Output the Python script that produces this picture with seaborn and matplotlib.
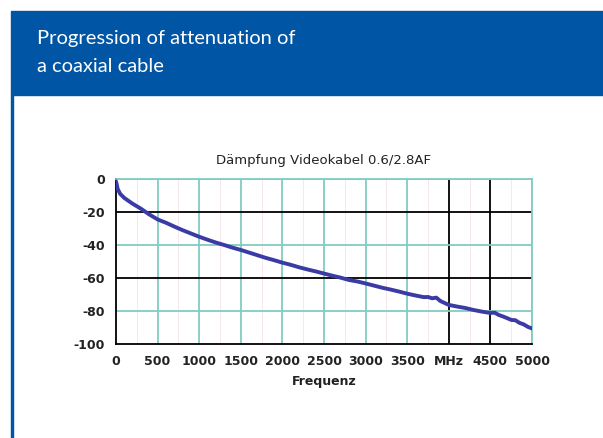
import matplotlib
matplotlib.use("Agg")
import matplotlib.pyplot as plt
import matplotlib.patches as patches
import seaborn as sns
import pandas as pd

# values
freq_mhz = [0, 10, 20, 50, 100, 200, 300, 400, 500, 600, 700, 800, 900,
            1000, 1100, 1200, 1300, 1400, 1500, 1600, 1700, 1800, 1900,
            2000, 2100, 2200, 2300, 2400, 2500, 2600, 2700, 2800, 2900,
            3000, 3100, 3200, 3300, 3400, 3500, 3600, 3700, 3750, 3800,
            3850, 3900, 4000, 4100, 4200, 4300, 4400, 4500, 4550, 4600,
            4650, 4700, 4750, 4800, 4850, 4900, 4950, 5000]
attenuation_db = [-1.5, -3.5, -6, -9, -11.5, -15, -18, -21.5, -24.5, -26.5,
                  -28.8, -31, -33, -35, -36.8, -38.5, -40, -41.6, -43, -44.6,
                  -46.2, -47.8, -49.2, -50.7, -52, -53.5, -54.8, -56, -57.3,
                  -58.6, -59.8, -61.2, -62.1, -63.3, -64.6, -65.9, -67, -68.2,
                  -69.5, -70.6, -71.6, -71.5, -72.3, -71.9, -74.0, -76.3,
                  -77.3, -78.2, -79.4, -80.4, -81.2, -81.0, -82.4, -83.3,
                  -84.3, -85.4, -85.6, -87.2, -88.1, -89.6, -90.6]
x_ticks = [0, 500, 1000, 1500, 2000, 2500, 3000, 3500, 4000, 4500, 5000]
x_tick_labels = ["0", "500", "1000", "1500", "2000", "2500", "3000", "3500",
                 "MHz", "4500", "5000"]
y_ticks = [0, -20, -40, -60, -80, -100]

header_blue = "#0055a4"
teal = "#7fcdc2"

df = pd.DataFrame({"Frequenz": freq_mhz, "Dämpfung": attenuation_db})

sns.set_style("white")
plt.rcParams["font.family"] = ["DejaVu Sans"]
plt.rcParams["axes.unicode_minus"] = False

fig = plt.figure(figsize=(6.03, 4.38), dpi=100)

# blue header band and left border of the panel
fig.patches.append(patches.Rectangle((11 / 603, 1 - 95 / 438), 592 / 603, 84 / 438,
                                     transform=fig.transFigure, color=header_blue, zorder=0))
fig.patches.append(patches.Rectangle((11 / 603, 0), 2 / 603, 1 - 95 / 438,
                                     transform=fig.transFigure, color=header_blue, zorder=0))
fig.text(37 / 603, 1 - 30 / 438, "Progression of attenuation of\na coaxial cable",
         color="white", fontsize=14.5, family=["Lato", "DejaVu Sans"],
         va="top", ha="left", linespacing=1.75)

ax = fig.add_axes([116 / 603, 1 - 344 / 438, 416 / 603, 165 / 438])

# very faint pinkish minor grid
for v in range(250, 5000, 500):
    ax.axvline(v, color="#f8e6ee", lw=0.7, zorder=0)

# main grid: teal, some lines black
for v in x_ticks[1:]:
    ax.axvline(v, color="black" if v in (4000, 4500) else teal, lw=1.3, zorder=1)
for h in y_ticks[:-1]:
    ax.axhline(h, color="black" if h in (-20, -60) else teal, lw=1.3, zorder=1)

sns.lineplot(data=df, x="Frequenz", y="Dämpfung", ax=ax, color="#3b3ba6",
             lw=2.8, zorder=3)

ax.set_xlim(0, 5000)
ax.set_ylim(-100, 0)
ax.set_xticks(x_ticks)
ax.set_xticklabels(x_tick_labels)
ax.set_yticks(y_ticks)
ax.tick_params(axis="both", length=4, width=1, color="black", labelsize=9,
               labelcolor="#222222", pad=4)
for lab in ax.get_xticklabels() + ax.get_yticklabels():
    lab.set_fontweight("bold")

for side in ("top", "right"):
    ax.spines[side].set_color(teal)
    ax.spines[side].set_linewidth(1.3)
for side in ("left", "bottom"):
    ax.spines[side].set_color("black")
    ax.spines[side].set_linewidth(1.3)

ax.set_ylabel("")
ax.set_xlabel("Frequenz", fontsize=9, fontweight="semibold", color="#222222", labelpad=5)
ax.set_title("Dämpfung Videokabel 0.6/2.8AF", fontsize=9.5, fontweight="normal",
             color="#222222", pad=11)

fig.savefig("out.png", dpi=100)
